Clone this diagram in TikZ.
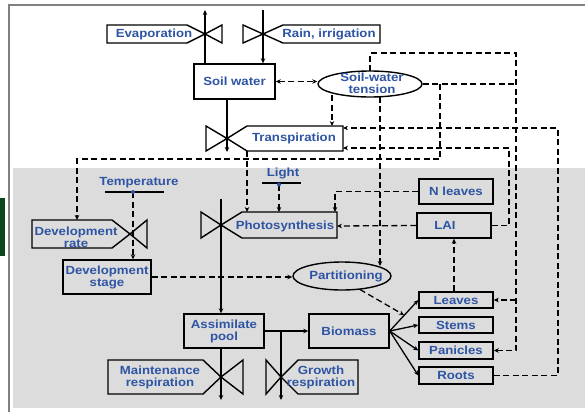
\documentclass[tikz,border=0pt]{standalone}
\usepackage{fontspec}
\setmainfont{Liberation Sans}[FakeStretch=1.12]
\usetikzlibrary{arrows.meta,shapes.geometric}
\definecolor{txtblue}{RGB}{46,84,164}
\definecolor{bggray}{RGB}{220,220,220}
\definecolor{framegray}{RGB}{128,128,128}
\definecolor{darkgreen}{RGB}{10,70,30}
\begin{document}
\begin{tikzpicture}[x=1pt,y=-1pt,
  >={Stealth[length=5pt,width=4.5pt]},
  lbl/.style={text=txtblue,font=\bfseries\fontsize{11.8}{12}\selectfont,align=center,inner sep=0pt},
  box/.style={lbl,draw,line width=1.4pt},
  oval/.style={draw,ellipse,line width=1.4pt,inner sep=0pt},
  vline/.style={draw,line width=1.4pt,line join=miter},
  flow/.style={line width=1.3pt,->},
  info/.style={line width=1.3pt,dash pattern=on 6pt off 3.5pt,->},
  infoline/.style={line width=1.3pt,dash pattern=on 6pt off 3.5pt},
]
\useasboundingbox (0,0) rectangle (585,412);
\fill[white] (0,0) rectangle (585,412);
\fill[bggray] (13,168) rectangle (585,408);
\draw[framegray,line width=1.5pt] (9,412) -- (9,5) -- (585,5);
\fill[darkgreen] (0,198) rectangle (5,256);

% rectangular boxes
\node[box,minimum width=81pt,minimum height=35pt] (sw) at (234.5,81.5) {Soil water};
\node[box,minimum width=88pt,minimum height=34pt] (ds) at (107,277) {Development\\stage};
\node[box,minimum width=80pt,minimum height=34pt] (ap) at (224,331) {Assimilate\\pool};
\node[box,minimum width=80pt,minimum height=34pt] (bio) at (349,331) {Biomass};
\node[box,minimum width=74pt,minimum height=25pt] (nl) at (456,191.5) {N leaves};
\node[box,minimum width=74pt,minimum height=25pt] (lai) at (454,225.5) {LAI\hspace*{18pt}};
\node[box,minimum width=74pt,minimum height=16pt] (leaves) at (456,300) {Leaves};
\node[box,minimum width=74pt,minimum height=16pt] (stems) at (456,325) {Stems};
\node[box,minimum width=74pt,minimum height=17pt] (pan) at (456,350.5) {Panicles};
\node[box,minimum width=74pt,minimum height=17pt] (roots) at (456,375.5) {Roots};

% ellipses
\node[oval,minimum width=104pt,minimum height=26pt] (swt) at (370,84) {};
\node[lbl] (swtl) at (372,83) {Soil-water\\tension};
\node[oval,minimum width=98pt,minimum height=28pt] (part) at (342,276) {};
\node[lbl] (partl) at (346,276) {Partitioning};

% valves with rate boxes
\draw[vline] (107,25) -- (187,25) -- (205,34) -- (187,43) -- (107,43) -- cycle;
\draw[vline] (205,34) -- (222,25) -- (222,43) -- cycle;
\node[lbl] (evap) at (154,34) {Evaporation};

\draw[vline] (263,34) -- (243,25) -- (243,43) -- cycle;
\draw[vline] (263,34) -- (283,25) -- (380,25) -- (380,43) -- (283,43) -- cycle;
\node[lbl] (rain) at (329,34) {Rain, irrigation};

\draw[vline] (227,138.5) -- (206,126) -- (206,151) -- cycle;
\draw[vline] (227,138.5) -- (247,126) -- (343,126) -- (343,151) -- (247,151) -- cycle;
\node[lbl] (tr) at (294,138.5) {Transpiration};

\draw[vline] (221,225) -- (201,212) -- (201,238) -- cycle;
\draw[vline] (221,225) -- (242,212) -- (337,212) -- (337,238) -- (242,238) -- cycle;
\node[lbl] (ph) at (285,226) {Photosynthesis};

\draw[vline] (32,220) -- (112,220) -- (130,234) -- (112,248) -- (32,248) -- cycle;
\draw[vline] (130,234) -- (147,220) -- (147,248) -- cycle;
\node[lbl] (dr) at (76,237) {Development\\rate};

\draw[vline] (108,360) -- (203,360) -- (221,377) -- (203,394) -- (108,394) -- cycle;
\draw[vline] (221,377) -- (243,360) -- (243,394) -- cycle;
\node[lbl] (mr) at (160,377.5) {Maintenance\\respiration};

\draw[vline] (281,377) -- (266,360) -- (266,394) -- cycle;
\draw[vline] (281,377) -- (298,360) -- (358,360) -- (358,394) -- (298,394) -- cycle;
\node[lbl] (gr) at (321,377.5) {Growth\\respiration};

% driving variables
\node[lbl] (light) at (283,173) {Light};
\draw[line width=1.2pt] (262,183) -- (301,183);
\coordinate (lightdot) at (279,184.5);
\node[lbl] (temp) at (139,183) {Temperature};
\draw[line width=1.2pt] (105,192) -- (164,192);
\coordinate (tempdot) at (133,192);

% named points on flows
\coordinate (evc) at (205,34);   \coordinate (evtop) at (205,10);
\coordinate (raintop) at (263,10);
\coordinate (trc) at (227,138);  \coordinate (trend) at (227,152);
\coordinate (phtop) at (221,199);
\coordinate (mrend) at (221,400);
\coordinate (grend) at (281,400);
\coordinate (trtop) at (332,126);
\coordinate (trbl) at (247,151);
\coordinate (phin1) at (247,212);
\coordinate (phin2) at (279,212);
\coordinate (phin3) at (335,212);
\coordinate (phright) at (337,226);
\coordinate (trin1) at (343,128);
\coordinate (trin2) at (343,148);
\coordinate (drtop) at (77,220);
\coordinate (swtbl) at (332,95);
\coordinate (swtb) at (380,96.8);
\coordinate (swtt) at (370,71);
\coordinate (parttop) at (380,266);
\coordinate (partbr) at (360,289.5);
\coordinate (fanpt) at (404,315);

% solid material flows
\draw[flow] (sw.north -| evc) -- (evtop);
\draw[flow] (raintop) -- (raintop |- sw.north);
\draw[flow] (sw.south -| trc) -- (trend);
\draw[flow] (phtop) -- (phtop |- ap.north);
\draw[flow] (ap.south -| mrend) -- (mrend);
\draw[flow] (ap.east) -- (bio.west);
\draw[flow] (ap.east -| grend) -- (grend);
\draw[flow] (bio.east) -- (leaves.west);
\draw[flow] (bio.east) -- (stems.west);
\draw[flow] (bio.east) -- (pan.west);
\draw[flow] (bio.east) -- (roots.west);

% dashed information flows
\draw[info,<->] (sw.east) -- (sw.east -| swt.west);
\draw[info] (swtbl) -- (trtop);
\draw[info] (swtt) -- (370,53) -- (516,53) -- (516,350.5) -- (pan.east);
\draw[info] (516,300) -- (leaves.east);
\draw[infoline] (swt.east) -- (516,84);
\draw[info] (440,84) -- (440,159) -| (drtop);
\draw[info] (swtb) -- (parttop);
\draw[info] (trbl) -- (phin1);
\draw[info] (lightdot) -- (phin2);
\draw[info] (nl.west) -| (phin3);
\draw[info] (lai.west) -- (phright);
\draw[info] (lai.south |- leaves.north) -- (lai.south);
\draw[info] (lai.east) -- (509,225.5) -- (509,148) -- (trin2);
\draw[info] (roots.east) -- (558,375.5) -- (558,128) -- (trin1);
\draw[info] (tempdot) -- (tempdot |- ds.north);
\draw[info] (ds.east) -- (ds.east -| part.west);
\draw[info] (partbr) -- (fanpt);

\fill[txtblue] (lightdot) circle (2pt);
\fill[txtblue] (tempdot) circle (2pt);
\end{tikzpicture}
\end{document}
